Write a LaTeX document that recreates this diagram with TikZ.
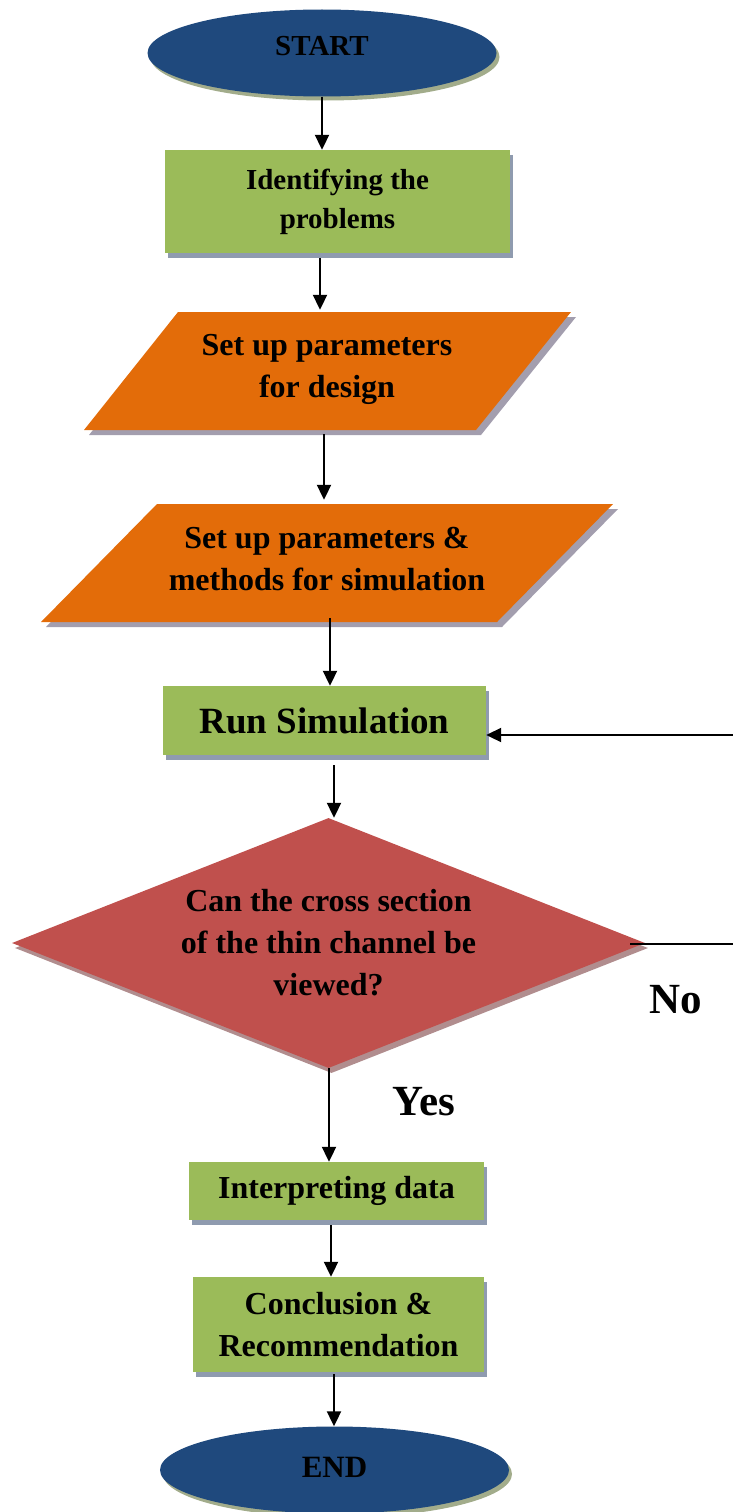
\documentclass[tikz,border=0pt]{standalone}
\usepackage{fontspec}
\setmainfont{Liberation Serif}
\usetikzlibrary{shapes.geometric,arrows.meta,shadows,calc}
\definecolor{navyE}{HTML}{1F497D}
\definecolor{greenB}{HTML}{9BBB59}
\definecolor{orangeB}{HTML}{E36C09}
\definecolor{redB}{HTML}{C0504D}
\definecolor{ellsh}{HTML}{A2AC8B}
\definecolor{boxsh}{HTML}{8F9BAF}
\definecolor{parash}{HTML}{A39EAE}
\definecolor{decsh}{HTML}{B18D8E}
\newcommand{\fs}[2]{\bfseries\fontsize{#1}{#2}\selectfont}
\begin{document}
\begin{tikzpicture}[x=1pt,y=-1pt,
  arr/.style={line width=2pt,-{Triangle[length=15pt,width=14pt]}},
  term/.style={ellipse, fill=navyE, minimum width=349pt, minimum height=87pt, inner sep=0pt,
    drop shadow={shadow xshift=3pt, shadow yshift=-4pt, fill=ellsh, opacity=1}},
  procbox/.style={rectangle, fill=greenB, inner sep=0pt, align=center,
    drop shadow={shadow xshift=3pt, shadow yshift=-5pt, fill=boxsh, opacity=1}},
  iobox/.style={rectangle, inner sep=0pt, align=center, minimum height=118pt, minimum width=300pt},
  decbox/.style={diamond, fill=redB, inner sep=0pt, align=center, aspect=2.53,
    minimum width=633pt, minimum height=250pt,
    drop shadow={shadow xshift=3pt, shadow yshift=-5pt, fill=decsh, opacity=1}},
  lbl/.style={inner sep=0pt, font=\fs{43}{50}}
]
\useasboundingbox (0,0) rectangle (733,1512);

% parallelograms (shapes drawn directly)
\fill[parash, shift={(5pt,-5pt)}] (178,312) -- (571,312) -- (476,430) -- (84,430) -- cycle;
\fill[orangeB] (178,312) -- (571,312) -- (476,430) -- (84,430) -- cycle;
\fill[parash, shift={(5pt,-5pt)}] (157,504) -- (613,504) -- (497,622) -- (41,622) -- cycle;
\fill[orangeB] (157,504) -- (613,504) -- (497,622) -- (41,622) -- cycle;

% nodes
\node[term, font=\fs{29}{35}, text depth=14pt] (start) at (322,53) {START};
\node[procbox, minimum width=345pt, minimum height=103pt, font=\fs{29}{39}] (box1) at (337.5,201.5) {Identifying the\\problems};
\node[iobox, font=\fs{32}{42}] (p1) at (327,369) {Set up parameters\\for design};
\node[iobox, font=\fs{32}{42}] (p2) at (327,559) {Set up parameters \&\\methods for simulation};
\node[procbox, minimum width=323pt, minimum height=69pt, font=\fs{37}{44}] (run) at (324.5,720.5) {Run Simulation};
\node[decbox, font=\fs{32}{42}] (dec) at (328.5,943) {Can the cross section\\of the thin channel be\\viewed?};
\node[procbox, minimum width=295pt, minimum height=58pt, font=\fs{32}{40}] (interp) at (336.5,1191) {Interpreting data};
\node[procbox, minimum width=291pt, minimum height=95pt, font=\fs{32}{42}] (concl) at (338.5,1324.5) {Conclusion \&\\Recommendation};
\node[term, font=\fs{31}{36}, text depth=6pt] (end) at (334.5,1470) {END};

\node[lbl] (no) at (676,1000) {No};
\node[lbl] (yes) at (424,1102) {Yes};

% connectors
\draw[arr] (start.south) -- (start.south |- box1.north);
\coordinate (a2) at ($(box1.south)+(-17.5,5)$);
\draw[arr] (a2) -- (a2 |- p1.north);
\coordinate (a3) at ($(p1.south)+(-3,6)$);
\draw[arr] (a3) -- (a3 |- p2.north);
\coordinate (a4) at ($(p2.south)+(3,0)$);
\draw[arr] (a4) -- (a4 |- run.north);
\coordinate (a5) at ($(run.south)+(9.5,10)$);
\draw[arr] (a5) -- (a5 |- dec.north);
\coordinate (a6) at ($(dec.south)+(0.5,0)$);
\draw[arr] (a6) -- (a6 |- interp.north);
\coordinate (a7) at ($(interp.south)+(-5.5,5)$);
\draw[arr] (a7) -- (a7 |- concl.north);
\coordinate (a8) at ($(concl.south)+(-4.5,2)$);
\draw[arr] (a8) -- (a8 |- end.north);
\coordinate (runin) at ($(run.east)+(0,14.5)$);
\draw[arr] ($(dec.east)+(-15,1)$) -- ++(125,0) |- (runin);
\end{tikzpicture}
\end{document}
